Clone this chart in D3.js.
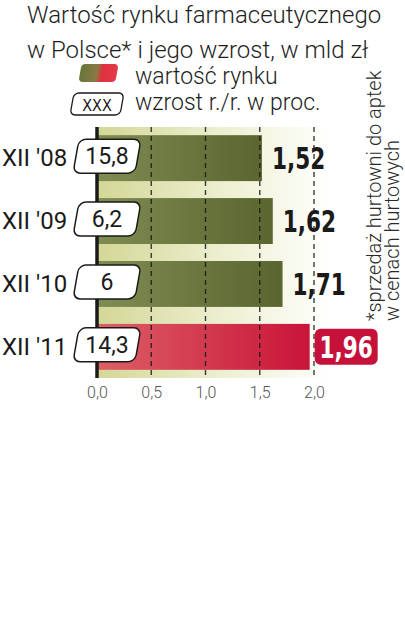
<!DOCTYPE html>
<html>
<head>
<meta charset="utf-8">
<script src="https://cdn.jsdelivr.net/npm/d3@7"></script>
<style>
  body { margin: 0; background: #fff; }
  svg { display: block; }
</style>
</head>
<body>
<svg id="chart" width="405" height="640"></svg>
<script>
// data
const categories = ["XII '08", "XII '09", "XII '10", "XII '11"];
const values = [1.52, 1.62, 1.71, 1.96];
const growth = ["15,8", "6,2", "6", "14,3"];
const tickValues = [0, 0.5, 1, 1.5, 2];

const svg = d3.select("#chart");
const light = "Roboto";

const x = d3.scaleLinear().domain([0, 2]).range([97, 314]);
const y = d3.scaleBand().domain(categories).range([127, 378])
  .paddingInner(0.27).paddingOuter(0.13);

const fmt = v => d3.format(".1f")(v).replace(".", ",");
const fmtVal = v => d3.format(".2f")(v).replace(".", ",");

// gradients
const defs = svg.append("defs");
function grad(id, stops) {
  const g = defs.append("linearGradient").attr("id", id)
    .attr("x1", 0).attr("x2", 1).attr("y1", 0).attr("y2", 0);
  stops.forEach(s => g.append("stop").attr("offset", s[0]).attr("stop-color", s[1]));
}
grad("bg", [[0, "#d3d796"], [0.55, "#eef0d2"], [1, "#ffffff"]]);
grad("green", [[0, "#7f8c52"], [1, "#5a652f"]]);
grad("red", [[0, "#dc6066"], [1, "#c91438"]]);
grad("legend", [[0, "#66753a"], [0.45, "#8a7a45"], [0.6, "#e0303f"], [1, "#e43a48"]]);

// title
const title = svg.append("g").attr("font-family", light).attr("font-weight", 300)
  .attr("font-size", 24).attr("fill", "#1e1e1e");
title.append("text").attr("x", 27).attr("y", 23).text("Wartość rynku farmaceutycznego");
title.append("text").attr("x", 27).attr("y", 58).text("w Polsce* i jego wzrost, w mld zł");

// legend
svg.append("rect").attr("transform", "translate(98.5,73) skewX(-10)")
  .attr("x", -18.5).attr("y", -9).attr("width", 37).attr("height", 18).attr("rx", 4)
  .attr("fill", "url(#legend)");
svg.append("rect").attr("transform", "translate(97,104) skewX(-10)")
  .attr("x", -25).attr("y", -11).attr("width", 50).attr("height", 22).attr("rx", 5)
  .attr("fill", "#fff").attr("stroke", "#1a1a1a").attr("stroke-width", 1.3);
svg.append("text").attr("x", 97).attr("y", 111).attr("text-anchor", "middle")
  .attr("font-family", "DejaVu Sans Condensed").attr("font-size", 16).attr("fill", "#1a1a1a")
  .text("XXX");
const leg = svg.append("g").attr("font-family", light).attr("font-weight", 300)
  .attr("font-size", 23).attr("fill", "#1e1e1e");
leg.append("text").attr("x", 135).attr("y", 84).text("wartość rynku");
leg.append("text").attr("x", 135).attr("y", 110).text("wzrost r./r. w proc.");

// background band
svg.append("rect").attr("x", x(0)).attr("y", y.range()[0])
  .attr("width", 235).attr("height", y.range()[1] - y.range()[0])
  .attr("fill", "url(#bg)");

// bars
svg.selectAll(".bar").data(values).join("rect").attr("class", "bar")
  .attr("x", x(0))
  .attr("y", (d, i) => y(categories[i]))
  .attr("width", d => x(d) - x(0))
  .attr("height", y.bandwidth())
  .attr("fill", (d, i) => i === values.length - 1 ? "url(#red)" : "url(#green)");

// dashed grid
svg.selectAll(".grid").data(tickValues.slice(1)).join("line").attr("class", "grid")
  .attr("x1", d => x(d)).attr("x2", d => x(d))
  .attr("y1", y.range()[0]).attr("y2", y.range()[1])
  .attr("stroke", "#1a1a1a").attr("stroke-width", 1.4).attr("stroke-dasharray", "5,4")
  .attr("opacity", 0.85);

// axis line
svg.append("line").attr("x1", x(0)).attr("x2", x(0))
  .attr("y1", y.range()[0]).attr("y2", y.range()[1])
  .attr("stroke", "#1a1a1a").attr("stroke-width", 3.5);

// tick labels
const axis = svg.append("g").attr("transform", "translate(0,385)")
  .call(d3.axisBottom(x).tickValues(tickValues).tickFormat(fmt).tickSize(0));
axis.select(".domain").remove();
axis.selectAll("text").attr("font-family", light).attr("font-weight", 300)
  .attr("font-size", 16).attr("fill", "#555").attr("dy", "0.6em");

// category labels
svg.selectAll(".cat").data(categories).join("text").attr("class", "cat")
  .attr("x", 2).attr("y", d => y(d) + y.bandwidth() / 2 + 8)
  .attr("font-family", "Roboto").attr("font-size", 24).attr("fill", "#1a1a1a")
  .text(d => d);

// growth boxes
const gb = svg.selectAll(".gbox").data(growth).join("g").attr("class", "gbox")
  .attr("transform", (d, i) => `translate(107,${y(categories[i]) + y.bandwidth() / 2 - 2})`);
gb.append("rect").attr("transform", "skewX(-10)")
  .attr("x", -31).attr("y", -17).attr("width", 62).attr("height", 34).attr("rx", 7)
  .attr("fill", "#fff").attr("stroke", "#1a1a1a").attr("stroke-width", 1.5);
gb.append("text").attr("text-anchor", "middle").attr("y", 8)
  .attr("font-family", "Roboto").attr("font-size", 23).attr("fill", "#1a1a1a")
  .text(d => d);

// value labels
const last = values.length - 1;
const vl = svg.selectAll(".val").data(values).join("g").attr("class", "val")
  .attr("transform", (d, i) => `translate(${x(d) + (i === last ? 5 : 10)},${y(categories[i]) + y.bandwidth() / 2})`);
vl.filter((d, i) => i === last).append("rect")
  .attr("x", 0).attr("y", -18).attr("width", 63).attr("height", 36).attr("rx", 6)
  .attr("fill", "#c6123a");
vl.append("text")
  .attr("transform", (d, i) => `translate(${i === last ? 31.5 : 0},11) scale(0.8,1)`)
  .attr("text-anchor", (d, i) => i === last ? "middle" : "start")
  .attr("font-family", "'DejaVu Sans Condensed', sans-serif")
  .attr("font-weight", 700).attr("font-size", 30)
  .attr("fill", (d, i) => i === last ? "#fff" : "#1a1a1a")
  .text(fmtVal);

// footnote
const note = svg.append("g").attr("font-family", light).attr("font-weight", 300)
  .attr("font-size", 20).attr("fill", "#2a2a2a");
note.append("text").attr("transform", "translate(381,321) rotate(-90)")
  .text("*sprzedaż hurtowni do aptek");
note.append("text").attr("transform", "translate(399,321) rotate(-90)")
  .text("w cenach hurtowych");
</script>
</body>
</html>
